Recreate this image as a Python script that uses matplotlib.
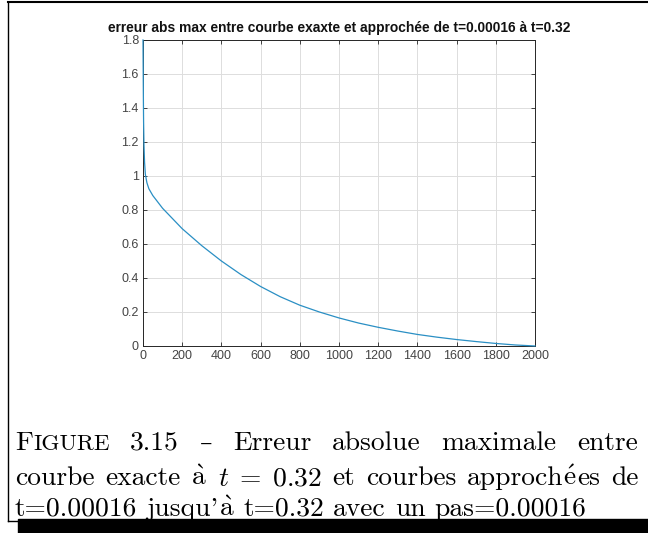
import matplotlib
matplotlib.use("Agg")
import matplotlib.pyplot as plt
from matplotlib.lines import Line2D
from matplotlib.patches import Rectangle

plt.rcParams["mathtext.fontset"] = "cm"

# ---- data ----
x_vals = [0, 1, 2, 3, 5, 8, 12, 20, 30, 50, 100, 150, 200, 300, 400, 500, 600, 700,
          800, 900, 1000, 1100, 1200, 1300, 1400, 1500, 1600, 1700, 1800, 1900, 2000]
y_vals = [1.80, 1.62, 1.45, 1.32, 1.18, 1.08, 1.01, 0.96, 0.925, 0.885, 0.81, 0.75,
          0.69, 0.59, 0.50, 0.42, 0.35, 0.29, 0.24, 0.20, 0.165, 0.135, 0.11, 0.088,
          0.068, 0.052, 0.038, 0.026, 0.015, 0.006, 0.0]
x_ticks = [0, 200, 400, 600, 800, 1000, 1200, 1400, 1600, 1800, 2000]
y_ticks = [0, 0.2, 0.4, 0.6, 0.8, 1.0, 1.2, 1.4, 1.6, 1.8]
y_tick_labels = ["0", "0.2", "0.4", "0.6", "0.8", "1", "1.2", "1.4", "1.6", "1.8"]
title = "erreur abs max entre courbe exaxte et approchée de t=0.00016 à t=0.32"

W, H = 648, 533
fig = plt.figure(figsize=(W / 100, H / 100), dpi=100)

def fx(px):
    return px / W

def fy(py):
    return 1 - py / H

ax_l, ax_r, ax_t, ax_b = 143, 535, 40, 346
ax = fig.add_axes([fx(ax_l), fy(ax_b), fx(ax_r - ax_l), (ax_b - ax_t) / H])
axcol = "#262626"
ax.plot(x_vals, y_vals, color="#2a8fc4", lw=0.9, zorder=3, clip_on=False)
ax.set_xlim(0, 2000)
ax.set_ylim(0, 1.8)
ax.set_xticks(x_ticks)
ax.set_yticks(y_ticks)
ax.set_yticklabels(y_tick_labels)
ax.grid(True, color="#dddddd", lw=0.7)
ax.set_axisbelow(True)
ax.tick_params(direction="in", length=3, width=0.6, colors=axcol, labelsize=9,
               top=True, right=True, pad=3)
for lab in ax.get_xticklabels() + ax.get_yticklabels():
    lab.set_fontfamily("Liberation Sans")
    lab.set_color("#444444")
for s in ax.spines.values():
    s.set_color(axcol)
    s.set_linewidth(0.7)
ax.set_title(title, fontsize=9.9, fontweight="bold", family="Liberation Sans",
             pad=6, color="#111111")

# ---- frame around the figure ----
lc = "black"
fig.add_artist(Line2D([fx(8), fx(8)], [fy(2), fy(521)], color=lc, lw=1.0))
fig.add_artist(Line2D([fx(8), fx(648)], [fy(2), fy(2)], color=lc, lw=1.5))
fig.add_artist(Line2D([fx(8), fx(18)], [fy(521), fy(521)], color=lc, lw=1.0))
fig.add_artist(Rectangle((fx(18), 0), 1 - fx(18), (533 - 519) / H,
                         transform=fig.transFigure, color="black"))

# ---- caption (justified lines built word by word) ----
fam = "cmr10"
cs = 19.8
em_px = cs * 100 / 72
renderer = fig.canvas.get_renderer()

def width_of(t):
    return t.get_window_extent(renderer=renderer).width

def place_line(pieces, y_px, x0=15, x1=638, justify=True):
    arts = []
    widths = []
    for word in pieces:
        segs = []
        w = 0
        for seg in word:
            txt, size = seg[0], seg[1]
            family = seg[2] if len(seg) > 2 else fam
            t = fig.text(0, fy(y_px), txt, fontsize=size, family=family, va="baseline")
            tw = width_of(t)
            segs.append((t, w))
            w += tw
        arts.append(segs)
        widths.append(w)
    total = sum(widths)
    n = len(pieces)
    if justify and n > 1:
        gap = (x1 - x0 - total) / (n - 1)
    else:
        gap = em_px * 0.333
    x = x0
    for segs, w in zip(arts, widths):
        for t, off in segs:
            t.set_x(fx(x + off))
        x += w + gap

sc = cs * 0.84
line1 = [[("F", cs), ("IGURE", sc)], [("3.15", cs)], [("\u2013", cs * 0.9, "DejaVu Serif")],
         [("Erreur", cs)], [("absolue", cs)], [("maximale", cs)], [("entre", cs)]]
line2 = [[("courbe", cs)], [("exacte", cs)], [(r"$\mathrm{\grave{a}}$", cs)],
         [(r"$t\;=\;0.32$", cs)], [("et", cs)],
         [("courbes", cs)], [("approch", cs), (r"$\mathrm{\acute{e}}$", cs), ("es", cs)],
         [("de", cs)]]
line3 = [[("t=0.00016", cs)], [("jusqu'", cs), (r"$\mathrm{\grave{a}}$", cs)],
         [("t=0.32", cs)], [("avec", cs)], [("un", cs)], [("pas=0.00016", cs)]]

place_line(line1, 450)
place_line(line2, 485)
place_line(line3, 516, justify=False)

fig.savefig("out.png", dpi=100)
